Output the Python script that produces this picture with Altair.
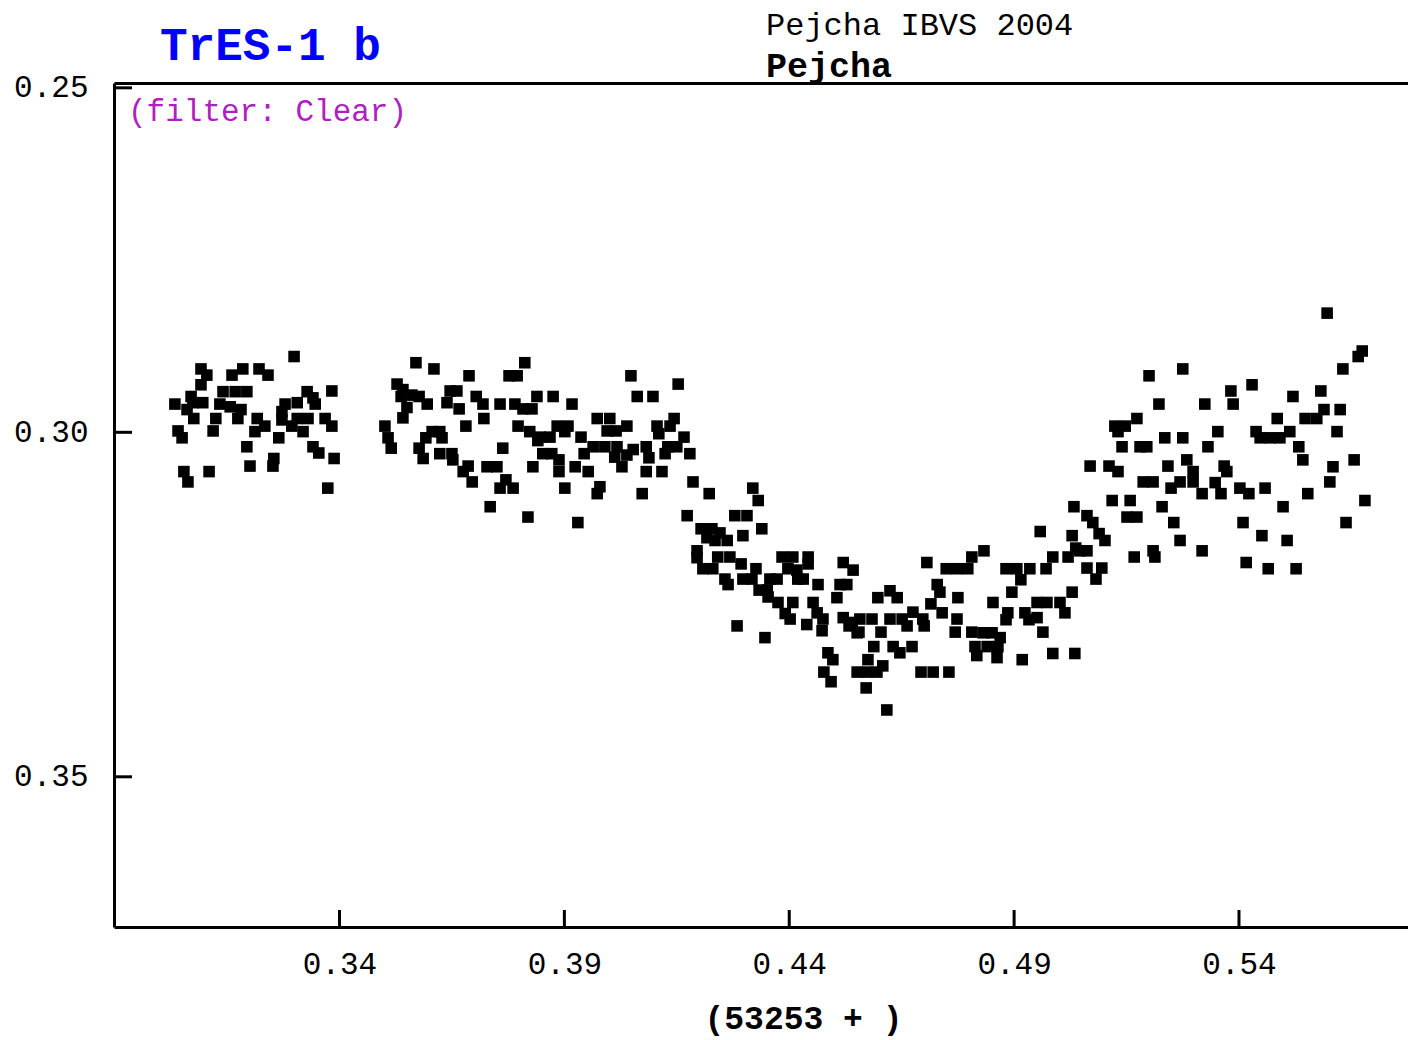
import altair as alt
import pandas as pd

# ---- data (HJD - 2453253, magnitude) ----
seg1 = [(0.3299,0.2890),(0.3092,0.2908),(0.3105,0.2917),(0.3185,0.2908),(0.3161,0.2917),(0.3221,0.2908),
        (0.3241,0.2917),(0.3092,0.2931),(0.3141,0.2941),(0.3168,0.2941),(0.3194,0.2941),(0.3328,0.2941),
        (0.3341,0.2950),(0.3383,0.2940),(0.3070,0.2948),(0.3034,0.2959),(0.3074,0.2957),(0.3096,0.2957),
        (0.3061,0.2967),(0.3134,0.2959),(0.3157,0.2963),(0.3181,0.2967),(0.3279,0.2959),(0.3306,0.2957),
        (0.3346,0.2959),(0.3272,0.2970),(0.3272,0.2982),(0.3217,0.2980),(0.3234,0.2991),(0.3212,0.2999),
        (0.3306,0.2980),(0.3330,0.2980),(0.3294,0.2991),(0.3319,0.2999),(0.3368,0.2980),(0.3383,0.2991),
        (0.3076,0.2980),(0.3125,0.2980),(0.3119,0.2998),(0.3174,0.2980),(0.3041,0.2998),(0.3050,0.3008),
        (0.3265,0.3008),(0.3194,0.3021),(0.3341,0.3021),(0.3354,0.3030),(0.3388,0.3038),(0.3254,0.3038),
        (0.3252,0.3049),(0.3201,0.3049),(0.3110,0.3057),(0.3054,0.3057),(0.3063,0.3072),(0.3374,0.3081)]

seg2 = [(0.3570,0.2899),(0.3610,0.2908),(0.3812,0.2899),(0.3777,0.2918),(0.3795,0.2918),(0.3688,0.2918),
        (0.3528,0.2930),(0.3541,0.2938),(0.3537,0.2948),(0.3561,0.2946),(0.3577,0.2948),(0.3595,0.2959),
        (0.3550,0.2964),(0.3541,0.2979),(0.3646,0.2940),(0.3661,0.2940),(0.3639,0.2957),(0.3666,0.2966),
        (0.3704,0.2948),(0.3719,0.2959),(0.3757,0.2959),(0.3790,0.2959),(0.3808,0.2966),(0.3828,0.2966),
        (0.3839,0.2948),(0.3721,0.2980),(0.3681,0.2991),(0.3501,0.2991),(0.3508,0.3008),(0.3515,0.3023),
        (0.3606,0.2999),(0.3623,0.2999),(0.3592,0.3008),(0.3628,0.3008),(0.3577,0.3023),(0.3586,0.3038),
        (0.3623,0.3031),(0.3650,0.3031),(0.3652,0.3040),(0.3797,0.2991),(0.3823,0.2999),(0.3841,0.3012),
        (0.3763,0.3023),(0.3686,0.3049),(0.3675,0.3057),(0.3695,0.3072),(0.3728,0.3050),(0.3750,0.3050),
        (0.3830,0.3050),(0.3770,0.3069),(0.3757,0.3081),(0.3786,0.3081),(0.3735,0.3108),(0.3819,0.3123)]

seg3 = [(0.4048,0.2918),(0.4153,0.2930),(0.3875,0.2948),(0.3917,0.2959),(0.4062,0.2948),(0.4097,0.2948),
        (0.3973,0.2980),(0.4001,0.2980),(0.3995,0.2998),(0.4015,0.2998),(0.4039,0.2991),(0.3884,0.2991),
        (0.3908,0.2991),(0.3901,0.2999),(0.3846,0.3007),(0.3868,0.3007),(0.3937,0.3007),(0.4106,0.2991),
        (0.4135,0.2991),(0.4144,0.2980),(0.4110,0.3002),(0.4166,0.3007),(0.3964,0.3021),(0.3990,0.3021),
        (0.4017,0.3021),(0.4012,0.3036),(0.4039,0.3033),(0.4053,0.3025),(0.4028,0.3050),(0.4082,0.3021),
        (0.4088,0.3037),(0.4082,0.3057),(0.4117,0.3057),(0.4130,0.3021),(0.4150,0.3021),(0.4124,0.3031),
        (0.4179,0.3031),(0.3852,0.3031),(0.3872,0.3031),(0.3888,0.3040),(0.3888,0.3057),(0.3924,0.3050),
        (0.3944,0.3031),(0.3953,0.3057),(0.3901,0.3081),(0.3979,0.3079),(0.3973,0.3089),(0.4073,0.3089),
        (0.4186,0.3072),(0.3930,0.3131),(0.4173,0.3121)]

seg4 = [(0.4222,0.3089),(0.4319,0.3081),(0.4331,0.3099),(0.4279,0.3121),(0.4306,0.3121),(0.4339,0.3140),
        (0.4297,0.3150),(0.4204,0.3140),(0.4228,0.3140),(0.4246,0.3146),(0.4217,0.3153),(0.4235,0.3157),
        (0.4262,0.3157),(0.4195,0.3172),(0.4195,0.3182),(0.4241,0.3181),(0.4268,0.3181),(0.4293,0.3191),
        (0.4208,0.3198),(0.4230,0.3198),(0.4257,0.3213),(0.4264,0.3221),(0.4297,0.3213),(0.4317,0.3213),
        (0.4326,0.3198),(0.4384,0.3181),(0.4408,0.3181),(0.4442,0.3181),(0.4442,0.3191),(0.4397,0.3198),
        (0.4417,0.3200),(0.4419,0.3213),(0.4431,0.3213),(0.4520,0.3189),(0.4542,0.3200),(0.4464,0.3221),
        (0.4513,0.3221),(0.4528,0.3221),(0.4506,0.3240),(0.4357,0.3213),(0.4373,0.3213),(0.4333,0.3229),
        (0.4351,0.3229),(0.4353,0.3239),(0.4375,0.3247),(0.4408,0.3247),(0.4453,0.3247),(0.4391,0.3263),
        (0.4402,0.3271),(0.4462,0.3262),(0.4475,0.3271),(0.4439,0.3279),(0.4473,0.3288),(0.4520,0.3269),
        (0.4540,0.3276),(0.4551,0.3291),(0.4284,0.3281),(0.4346,0.3298)]

seg5 = [(0.4706,0.3189),(0.4749,0.3198),(0.4773,0.3198),(0.4797,0.3198),(0.4597,0.3240),(0.4624,0.3230),
        (0.4640,0.3240),(0.4729,0.3221),(0.4735,0.3232),(0.4715,0.3249),(0.4775,0.3240),(0.4557,0.3271),
        (0.4584,0.3271),(0.4533,0.3281),(0.4555,0.3290),(0.4604,0.3290),(0.4624,0.3271),(0.4651,0.3271),
        (0.4675,0.3261),(0.4697,0.3271),(0.4662,0.3281),(0.4700,0.3281),(0.4740,0.3262),(0.4773,0.3271),
        (0.4769,0.3290),(0.4588,0.3311),(0.4631,0.3311),(0.4673,0.3311),(0.4646,0.3320),(0.4486,0.3320),
        (0.4497,0.3330),(0.4575,0.3330),(0.4608,0.3339),(0.4551,0.3348),(0.4573,0.3348),(0.4595,0.3348),
        (0.4477,0.3348),(0.4493,0.3362),(0.4571,0.3371),(0.4693,0.3348),(0.4720,0.3348),(0.4755,0.3348),
        (0.4617,0.3403)]

seg6 = [(0.4958,0.3144),(0.5029,0.3150),(0.4833,0.3172),(0.4806,0.3181),(0.4986,0.3181),(0.5020,0.3181),
        (0.5037,0.3168),(0.4882,0.3198),(0.4906,0.3198),(0.4935,0.3198),(0.4915,0.3214),(0.4971,0.3198),
        (0.4895,0.3232),(0.5029,0.3232),(0.4853,0.3247),(0.4951,0.3247),(0.4973,0.3247),(0.5002,0.3247),
        (0.4886,0.3262),(0.4882,0.3272),(0.4924,0.3262),(0.4951,0.3269),(0.4933,0.3272),(0.5013,0.3262),
        (0.4806,0.3290),(0.4831,0.3291),(0.4851,0.3291),(0.4869,0.3298),(0.4964,0.3290),(0.4813,0.3311),
        (0.4840,0.3311),(0.4864,0.3311),(0.4817,0.3324),(0.4862,0.3327),(0.4918,0.3330),(0.4986,0.3321),
        (0.5035,0.3321)]

seg7 = [(0.5275,0.2908),(0.5200,0.2918),(0.5222,0.2959),(0.5173,0.2980),(0.5124,0.2991),(0.5147,0.2991),
        (0.5131,0.2999),(0.5235,0.3008),(0.5275,0.3008),(0.5140,0.3021),(0.5180,0.3021),(0.5195,0.3021),
        (0.5069,0.3049),(0.5111,0.3049),(0.5131,0.3057),(0.5242,0.3049),(0.5284,0.3040),(0.5298,0.3057),
        (0.5269,0.3072),(0.5298,0.3072),(0.5249,0.3081),(0.5187,0.3072),(0.5209,0.3072),(0.5118,0.3099),
        (0.5158,0.3099),(0.5229,0.3108),(0.5151,0.3123),(0.5173,0.3123),(0.5033,0.3108),(0.5062,0.3121),
        (0.5075,0.3131),(0.5255,0.3131),(0.5089,0.3147),(0.5102,0.3157),(0.5269,0.3157),(0.5046,0.3172),
        (0.5062,0.3172),(0.5209,0.3172),(0.5213,0.3181),(0.5167,0.3181),(0.5062,0.3197),(0.5095,0.3197),
        (0.5082,0.3213)]

seg8 = [(0.5596,0.2827),(0.5674,0.2882),(0.5665,0.2890),(0.5631,0.2908),(0.5429,0.2931),(0.5382,0.2940),
        (0.5387,0.2959),(0.5324,0.2959),(0.5520,0.2948),(0.5582,0.2940),(0.5589,0.2967),(0.5625,0.2967),
        (0.5547,0.2980),(0.5573,0.2980),(0.5485,0.2980),(0.5353,0.2999),(0.5438,0.2999),(0.5513,0.2999),
        (0.5447,0.3008),(0.5469,0.3008),(0.5491,0.3008),(0.5618,0.2999),(0.5331,0.3021),(0.5533,0.3021),
        (0.5542,0.3040),(0.5656,0.3040),(0.5609,0.3050),(0.5367,0.3049),(0.5373,0.3057),(0.5347,0.3073),
        (0.5318,0.3089),(0.5360,0.3089),(0.5402,0.3081),(0.5422,0.3089),(0.5458,0.3081),(0.5553,0.3089),
        (0.5602,0.3072),(0.5680,0.3099),(0.5498,0.3108),(0.5409,0.3131),(0.5638,0.3131),(0.5451,0.3150),
        (0.5507,0.3157),(0.5318,0.3172),(0.5416,0.3189),(0.5465,0.3198),(0.5527,0.3198)]

x_ticks = [0.34, 0.39, 0.44, 0.49, 0.54]
y_ticks = [0.25, 0.30, 0.35]
x_domain = [0.28986, 0.57758]
y_domain = [0.2493, 0.3718]

title_text = "TrES-1 b"
ref_text = "Pejcha IBVS 2004"
observer_text = "Pejcha"
filter_text = "(filter: Clear)"
x_title = "(53253 + )"

# ---- build ----
pts = seg1 + seg2 + seg3 + seg4 + seg5 + seg6 + seg7 + seg8
df = pd.DataFrame(pts, columns=["hjd", "mag"])

FONT = "Liberation Mono"
W, H = 1294, 844

xs = alt.Scale(domain=x_domain, nice=False, zero=False)
ys = alt.Scale(domain=y_domain, nice=False, zero=False, reverse=True)

y_axis = alt.Axis(values=y_ticks, format=".2f", title=None, ticks=False, tickSize=0,
                  labelPadding=26, labelFont=FONT, labelFontSize=31, labelColor="black",
                  domainColor="black", domainWidth=3, grid=False)

x_axis = alt.Axis(values=x_ticks, format=".2f", title=x_title, ticks=False, tickSize=0,
                  labelPadding=22, labelFont=FONT, labelFontSize=31, labelColor="black",
                  domainColor="black", domainWidth=3, grid=False,
                  titleFont=FONT, titleFontSize=33, titleFontWeight="bold", titleColor="black",
                  titleX=689, titleY=101, titleAlign="center", titleBaseline="alphabetic")

points = alt.Chart(df).mark_square(size=134, color="black", opacity=1, filled=True).encode(
    x=alt.X("hjd:Q", scale=xs, axis=x_axis),
    y=alt.Y("mag:Q", scale=ys, axis=y_axis),
)

top_axis = alt.Chart(df).mark_square(opacity=0).encode(
    x=alt.X("hjd:Q", scale=xs, axis=alt.Axis(orient="top", labels=False, ticks=False, title=None,
                                             domainColor="black", domainWidth=3, grid=False)),
    y=alt.Y("mag:Q", scale=ys, axis=y_axis),
)

xt = alt.Chart(pd.DataFrame({"v": x_ticks})).mark_rule(color="black", strokeWidth=3).encode(
    x=alt.X("v:Q", scale=xs, axis=None),
    y=alt.value(H - 17), y2=alt.value(H),
)

yt = alt.Chart(pd.DataFrame({"v": y_ticks})).mark_rule(color="black", strokeWidth=3).encode(
    y=alt.Y("v:Q", scale=ys, axis=y_axis),
    x=alt.value(0), x2=alt.value(18),
)

def label(text, x, y, size, color="black", weight="normal"):
    return alt.Chart(pd.DataFrame({"t": [text]})).mark_text(
        font=FONT, fontSize=size, fontWeight=weight, color=color,
        align="left", baseline="alphabetic").encode(
        x=alt.value(x), y=alt.value(y), text="t:N")

t_title = label(title_text, 46, -23, 46, color="#0000ff", weight="bold")
t_ref = label(ref_text, 652, -48, 32)
t_obs = label(observer_text, 652, -6, 35, weight="bold")
t_filter = label(filter_text, 14, 38, 31, color="#b020c0")

chart = alt.layer(points, top_axis, xt, yt, t_title, t_ref, t_obs, t_filter).resolve_scale(
    x="independent"
).properties(
    width=W, height=H,
    padding={"left": 114, "top": 83, "right": 0, "bottom": 113},
    autosize=alt.AutoSizeParams(type="none"),
    background="white",
).configure_view(stroke=None)

chart.save("out.html", embed_options={"renderer": "svg", "actions": False})
